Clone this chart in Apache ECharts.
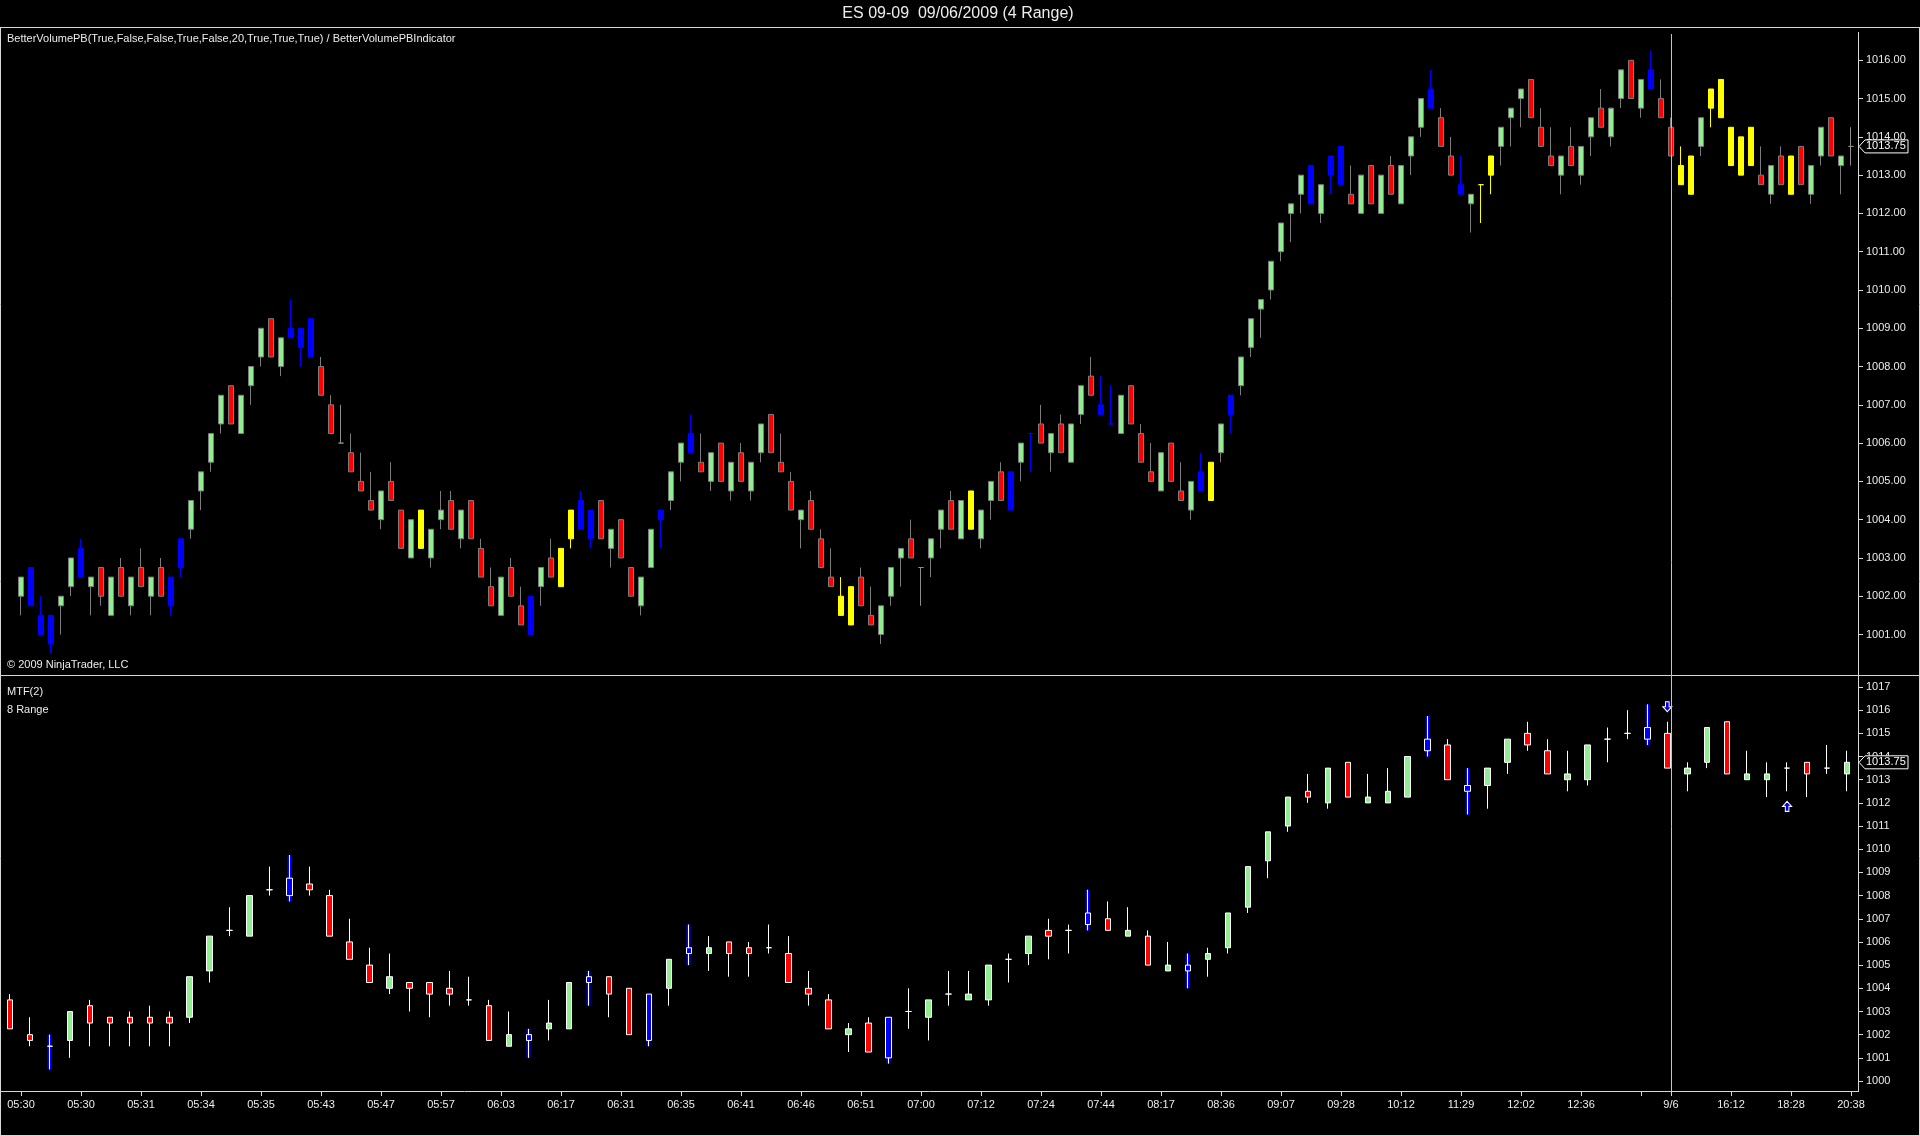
<!DOCTYPE html>
<html>
<head>
<meta charset="utf-8">
<script src="https://cdn.jsdelivr.net/npm/echarts@6/dist/echarts.min.js"></script>
<style>
html,body{margin:0;padding:0;background:#000;overflow:hidden;}
#c{width:1920px;height:1136px;}
</style>
</head>
<body>
<div id="c"></div>
<script>
// ---------- Primary series: 4 Range bars ----------
const topOpen = [
1002.0,1002.75,1001.5,1001.5,1001.75,1002.25,1002.5,1002.25,1002.75,1001.5,
1002.75,1001.75,1002.75,1002.0,1002.75,1002.5,1002.75,1003.75,1004.75,1005.5,
1006.5,1007.5,1006.25,1007.5,1008.25,1009.25,1008.0,1008.75,1009.0,1008.25,
1008.0,1007.0,1006.0,1005.75,1005.0,1004.5,1004.0,1005.0,1004.25,1003.0,
1004.25,1003.0,1004.0,1004.5,1003.5,1004.5,1003.25,1002.25,1001.5,1002.75,
1001.75,1002.0,1002.25,1003.0,1002.25,1003.5,1003.75,1004.25,1004.5,1003.25,
1004.0,1002.75,1001.75,1002.75,1004.0,1004.5,1005.5,1005.75,1005.5,1005.0,
1006.0,1004.75,1005.75,1004.75,1005.75,1006.75,1005.5,1005.0,1004.0,1004.5,
1003.5,1002.5,1002.0,1002.25,1002.5,1001.5,1001.0,1002.0,1003.0,1003.5,
1002.75,1003.0,1003.75,1004.5,1003.5,1003.75,1003.5,1004.5,1005.25,1005.25,
1005.5,1006.25,1006.5,1005.75,1006.5,1005.5,1006.75,1007.75,1007.0,1006.5,
1006.25,1007.5,1006.25,1005.25,1004.75,1006.0,1004.75,1004.25,1005.25,1004.5,
1005.75,1006.75,1007.5,1008.5,1009.5,1010.0,1011.0,1012.0,1012.5,1012.25,
1012.0,1013.0,1012.75,1012.5,1012.0,1013.25,1012.0,1013.25,1012.25,1013.5,
1014.25,1014.75,1014.5,1013.5,1012.75,1012.25,1012.75,1013.0,1013.75,1014.5,
1015.0,1015.5,1014.25,1013.5,1013.0,1013.75,1013.0,1014.0,1014.75,1014.0,
1015.0,1016.0,1014.75,1015.25,1015.0,1014.25,1013.25,1012.5,1013.75,1014.75,
1015.5,1014.25,1014.0,1013.25,1013.0,1012.5,1013.5,1013.5,1013.75,1012.5,
1013.5,1014.5,1013.25,1013.75
];
const topClose = [
1002.5,1001.75,1001.0,1000.75,1002.0,1003.0,1003.25,1002.5,1002.0,1002.5,
1002.0,1002.5,1002.25,1002.5,1002.0,1001.75,1003.5,1004.5,1005.25,1006.25,
1007.25,1006.5,1007.25,1008.0,1009.0,1008.25,1008.75,1009.0,1008.5,1009.25,
1007.25,1006.25,1006.0,1005.25,1004.75,1004.25,1004.75,1004.5,1003.25,1004.0,
1003.25,1003.75,1004.25,1003.75,1004.25,1003.5,1002.5,1001.75,1002.5,1002.0,
1001.25,1001.0,1002.75,1002.5,1003.25,1004.25,1004.5,1003.5,1003.5,1003.75,
1003.0,1002.0,1002.5,1003.75,1004.25,1005.25,1006.0,1006.25,1005.25,1005.75,
1005.0,1005.5,1005.0,1005.5,1006.5,1005.75,1005.25,1004.25,1004.25,1003.75,
1002.75,1002.25,1001.5,1001.25,1001.75,1001.25,1001.75,1002.75,1003.25,1003.0,
1002.75,1003.5,1004.25,1003.75,1004.5,1004.75,1004.25,1005.0,1004.5,1004.25,
1006.0,1006.25,1006.0,1006.25,1005.75,1006.5,1007.5,1007.25,1006.75,1006.5,
1007.25,1006.5,1005.5,1005.0,1005.75,1005.0,1004.5,1005.0,1004.75,1005.5,
1006.5,1007.25,1008.25,1009.25,1009.75,1010.75,1011.75,1012.25,1013.0,1013.25,
1012.75,1013.5,1013.75,1012.25,1013.0,1012.25,1013.0,1012.5,1013.25,1014.0,
1015.0,1015.25,1013.75,1013.0,1012.5,1012.5,1012.75,1013.5,1014.25,1014.75,
1015.25,1014.5,1013.75,1013.25,1013.5,1013.25,1013.75,1014.5,1014.25,1014.75,
1015.75,1015.0,1015.5,1015.75,1014.5,1013.5,1012.75,1013.5,1014.5,1015.25,
1014.5,1013.25,1013.0,1014.25,1012.75,1013.25,1012.75,1012.5,1012.75,1013.25,
1014.25,1013.5,1013.5,1013.75
];
const topLow = [
1001.5,1001.75,1001.0,1000.5,1001.0,1002.0,1002.5,1001.5,1001.75,1001.5,
1002.0,1001.5,1002.25,1001.5,1002.0,1001.5,1002.5,1003.5,1004.25,1005.25,
1006.25,1006.5,1006.25,1007.0,1008.0,1008.25,1007.75,1008.75,1008.0,1008.25,
1007.25,1006.25,1006.0,1005.25,1004.75,1004.25,1003.75,1004.5,1003.25,1003.0,
1003.25,1002.75,1003.75,1003.75,1003.25,1003.5,1002.5,1001.75,1001.5,1002.0,
1001.25,1001.0,1001.75,1002.5,1002.25,1003.25,1003.75,1003.25,1003.5,1002.75,
1003.0,1002.0,1001.5,1002.75,1003.25,1004.25,1005.0,1005.75,1005.25,1004.75,
1005.0,1004.5,1005.0,1004.5,1005.5,1005.75,1005.25,1004.25,1003.25,1003.75,
1002.75,1002.25,1001.5,1001.25,1001.75,1001.25,1000.75,1001.75,1002.25,1003.0,
1001.75,1002.5,1003.25,1003.75,1003.5,1003.75,1003.25,1004.0,1004.5,1004.25,
1005.0,1005.25,1006.0,1005.25,1005.75,1005.5,1006.5,1007.25,1006.75,1006.5,
1006.25,1006.5,1005.5,1005.0,1004.75,1005.0,1004.5,1004.0,1004.75,1004.5,
1005.5,1006.25,1007.25,1008.25,1008.75,1009.75,1010.75,1011.25,1012.0,1012.25,
1011.75,1012.5,1012.75,1012.25,1012.0,1012.25,1012.0,1012.5,1012.25,1013.0,
1014.0,1014.75,1013.75,1013.0,1012.5,1011.5,1011.75,1012.5,1013.25,1013.75,
1014.25,1014.5,1013.75,1013.25,1012.5,1013.25,1012.75,1013.5,1014.25,1013.75,
1014.75,1015.0,1014.5,1015.25,1014.5,1013.5,1012.75,1012.5,1013.5,1014.25,
1014.5,1013.25,1013.0,1013.25,1012.75,1012.25,1012.75,1012.5,1012.75,1012.25,
1013.25,1013.5,1012.5,1013.25
];
const topHigh = [
1002.5,1002.75,1002.0,1001.5,1002.0,1003.0,1003.5,1002.5,1002.75,1002.5,
1003.0,1002.5,1003.25,1002.5,1003.0,1002.5,1003.5,1004.5,1005.25,1006.25,
1007.25,1007.5,1007.25,1008.0,1009.0,1009.25,1008.75,1009.75,1009.0,1009.25,
1008.25,1007.25,1007.0,1006.25,1005.75,1005.25,1004.75,1005.5,1004.25,1004.0,
1004.25,1003.75,1004.75,1004.75,1004.25,1004.5,1003.5,1002.75,1002.5,1003.0,
1002.25,1002.0,1002.75,1003.5,1003.25,1004.25,1004.75,1004.25,1004.5,1003.75,
1004.0,1002.75,1002.5,1003.75,1004.25,1005.25,1006.0,1006.75,1006.25,1005.75,
1006.0,1005.5,1006.0,1005.5,1006.5,1006.75,1006.25,1005.25,1004.25,1004.75,
1003.75,1003.25,1002.5,1002.25,1002.75,1002.25,1001.75,1002.75,1003.25,1004.0,
1002.75,1003.5,1004.25,1004.75,1004.5,1004.75,1004.25,1005.0,1005.5,1005.25,
1006.0,1006.25,1007.0,1006.25,1006.75,1006.5,1007.5,1008.25,1007.75,1007.5,
1007.25,1007.5,1006.5,1006.0,1005.75,1006.0,1005.5,1005.0,1005.75,1005.5,
1006.5,1007.25,1008.25,1009.25,1009.75,1010.75,1011.75,1012.25,1013.0,1013.25,
1012.75,1013.5,1013.75,1013.25,1013.0,1013.25,1013.0,1013.5,1013.25,1014.0,
1015.0,1015.75,1014.75,1014.0,1013.5,1012.5,1012.75,1013.5,1014.25,1014.75,
1015.25,1015.5,1014.75,1014.25,1013.5,1014.25,1013.75,1014.5,1015.25,1014.75,
1015.75,1016.0,1015.5,1016.25,1015.5,1014.5,1013.75,1013.5,1014.5,1015.25,
1015.5,1014.25,1014.0,1014.25,1013.75,1013.25,1013.75,1013.5,1013.75,1013.25,
1014.25,1014.5,1013.5,1014.25
];
// G = normal up, R = normal down, B = blue paint bar, Y = yellow paint bar, D = doji
const topColor = [
'G','B','B','B','G','G','B','G','R','G',
'R','G','R','G','R','B','B','G','G','G',
'G','R','G','G','G','R','G','B','B','B',
'R','R','D','R','R','R','G','R','R','G',
'Y','G','G','R','G','R','R','R','G','R',
'R','B','G','R','Y','Y','B','B','R','G',
'R','R','G','G','B','G','G','B','R','G',
'R','G','R','G','G','R','R','R','G','R',
'R','R','Y','Y','R','R','G','G','G','R',
'D','G','G','R','G','Y','G','G','R','B',
'G','B','R','G','R','G','G','R','B','B',
'G','R','R','R','G','R','R','G','B','Y',
'G','B','G','G','G','G','G','G','G','B',
'G','B','B','R','G','R','G','R','G','G',
'G','B','R','R','B','G','Y','Y','G','G',
'G','R','R','R','G','R','G','G','R','G',
'G','R','G','B','R','R','Y','Y','G','Y',
'Y','Y','Y','Y','R','G','R','Y','R','G',
'G','R','G','D'
];

// ---------- Secondary series: MTF(2) 8 Range bars ----------
const botOpen = [
1003.5,1002.0,1001.5,1001.75,1003.25,1002.75,1002.75,1002.75,1002.75,1002.75,
1004.75,1006.5,1006.25,1008.25,1008.0,1008.5,1008.0,1006.0,1005.0,1004.0,
1004.25,1004.25,1004.0,1003.5,1003.25,1001.5,1001.75,1002.25,1002.25,1004.25,
1004.5,1004.0,1003.75,1004.0,1005.5,1005.5,1006.0,1005.75,1005.75,1005.5,
1004.0,1003.5,1002.0,1002.5,1002.75,1003.0,1002.75,1003.75,1003.5,1003.5,
1005.25,1005.5,1006.5,1006.5,1006.75,1007.0,1006.25,1006.25,1004.75,1005.0,
1005.25,1005.75,1007.5,1009.5,1011.0,1012.5,1012.0,1013.75,1012.0,1012.0,
1012.25,1014.25,1014.5,1012.75,1012.75,1013.75,1015.0,1014.25,1013.0,1013.0,
1014.75,1015.0,1014.75,1015.0,1013.25,1013.75,1015.5,1013.0,1013.0,1013.5,
1013.75,1013.5,1013.25
];
const botClose = [
1002.25,1001.75,1001.5,1003.0,1002.5,1002.5,1002.5,1002.5,1002.5,1004.5,
1006.25,1006.5,1008.0,1008.25,1008.75,1008.25,1006.25,1005.25,1004.25,1004.5,
1004.0,1003.75,1003.75,1003.5,1001.75,1002.0,1002.0,1002.5,1004.25,1004.5,
1003.75,1002.0,1001.75,1005.25,1005.75,1005.75,1005.5,1005.5,1005.75,1004.25,
1003.75,1002.25,1002.25,1001.25,1001.0,1003.0,1003.5,1003.75,1003.75,1005.0,
1005.25,1006.25,1006.25,1006.5,1007.25,1006.5,1006.5,1005.0,1005.0,1004.75,
1005.5,1007.25,1009.25,1010.75,1012.25,1012.25,1013.5,1012.25,1012.25,1012.5,
1014.0,1014.75,1013.0,1012.5,1013.5,1014.75,1014.5,1013.25,1013.25,1014.5,
1014.75,1015.0,1015.25,1013.5,1013.5,1015.25,1013.25,1013.25,1013.25,1013.5,
1013.25,1013.5,1013.75
];
const botLow = [
1002.25,1001.5,1000.5,1001.0,1001.5,1001.5,1001.5,1001.5,1001.5,1002.5,
1004.25,1006.25,1006.25,1008.0,1007.75,1008.0,1006.25,1005.25,1004.25,1003.75,
1003.0,1002.75,1003.25,1003.25,1001.75,1001.5,1001.0,1001.75,1002.25,1003.25,
1002.75,1002.0,1001.5,1003.25,1005.0,1004.75,1004.5,1004.5,1005.5,1004.25,
1003.25,1002.25,1001.25,1001.25,1000.75,1002.25,1001.75,1003.25,1003.5,1003.25,
1004.25,1005.0,1005.25,1005.5,1006.5,1006.5,1006.25,1005.0,1004.75,1004.0,
1004.5,1005.5,1007.25,1008.75,1010.75,1012.0,1011.75,1012.25,1012.0,1012.0,
1012.25,1014.0,1013.0,1011.5,1011.75,1013.25,1014.25,1013.25,1012.5,1012.75,
1013.75,1014.75,1014.5,1013.5,1012.5,1013.5,1013.25,1013.0,1012.25,1012.5,
1012.25,1013.25,1012.5
];
const botHigh = [
1003.75,1002.75,1002.0,1003.0,1003.5,1002.75,1003.0,1003.25,1003.0,1004.5,
1006.25,1007.5,1008.0,1009.25,1009.75,1009.25,1008.25,1007.0,1005.75,1005.5,
1004.25,1004.25,1004.75,1004.5,1003.5,1003.0,1002.25,1003.5,1004.25,1004.75,
1004.5,1004.0,1003.75,1005.25,1006.75,1006.25,1006.0,1006.0,1006.75,1006.25,
1004.75,1003.75,1002.5,1002.75,1002.75,1004.0,1003.5,1004.75,1004.75,1005.0,
1005.5,1006.25,1007.0,1006.75,1008.25,1007.75,1007.5,1006.5,1006.0,1005.5,
1005.75,1007.25,1009.25,1010.75,1012.25,1013.25,1013.5,1013.75,1013.25,1013.5,
1014.0,1015.75,1014.75,1013.5,1013.5,1014.75,1015.5,1014.75,1014.25,1014.5,
1015.25,1016.0,1016.25,1015.5,1013.75,1015.25,1015.5,1014.25,1013.75,1013.75,
1013.75,1014.5,1014.25
];
// G = up, R = down, B = blue paint bar, W = doji
const botColor = [
'R','R','B','G','R','R','R','R','R','G',
'G','W','G','W','B','R','R','R','R','G',
'R','R','R','W','R','G','B','G','G','B',
'R','R','B','G','B','G','R','R','W','R',
'R','R','G','R','B','W','G','W','G','G',
'W','G','R','W','B','R','G','R','G','B',
'G','G','G','G','G','R','G','R','G','G',
'G','B','R','B','G','G','R','R','G','G',
'W','W','B','R','G','G','R','G','G','W',
'R','W','G'
];
// signal arrows on the secondary panel: [bar index, price]
const arrowDown = [[83, 1016.15]];
const arrowUp = [[89, 1011.85]];

// ---------- Axis labels ----------
const tickIndex = [0,6,12,18,24,30,36,42,48,54,60,66,72,78,84,90,96,102,108,114,120,126,132,138,144,150,156,162,165,171,177,183];
const tickLabels = ['05:30','05:30','05:31','05:34','05:35','05:43','05:47','05:57','06:03','06:17','06:31','06:35','06:41','06:46','06:51','07:00','07:12','07:24','07:44','08:17','08:36','09:07','09:28','10:12','11:29','12:02','12:36','','9/6','16:12','18:28','20:38'];
const topPriceTicks = [1001,1002,1003,1004,1005,1006,1007,1008,1009,1010,1011,1012,1013,1014,1015,1016];
const crosshairBar = 165;

const chartTitle = 'ES 09-09  09/06/2009 (4 Range)';
const topPanelLabel = 'BetterVolumePB(True,False,False,True,False,20,True,True,True) / BetterVolumePBIndicator';
const copyrightText = '\u00A9 2009 NinjaTrader, LLC';
const botPanelLabel1 = 'MTF(2)';
const botPanelLabel2 = '8 Range';

// ---------- Build ----------
const FONT = '"Liberation Sans", Arial, Helvetica, sans-serif';
const TXT = '#ececec';
const LINE = '#d8d8d8';
const topPal = {
  G: {f: '#90ee90', b: '#7c7c7c'},
  R: {f: '#ff0000', b: '#7c7c7c'},
  B: {f: '#0000ff', b: '#0000ff'},
  Y: {f: '#ffff00', b: '#ffff00'},
  D: {f: '#8c8c8c', b: '#8c8c8c'}
};
const botPal = {G: '#90ee90', R: '#ff0000', B: '#0000ff', W: '#ffffff'};

function item(o, c, l, h, fill, border) {
  return {value: [o, c, l, h], itemStyle: {color: fill, color0: fill, borderColor: border, borderColor0: border, borderColorDoji: border}};
}
const topCats = topOpen.map((_, i) => String(i));
const botCats = botOpen.map((_, i) => String(i));
const topData = topOpen.map((o, i) => {
  const p = topPal[topColor[i]];
  return item(o, topClose[i], topLow[i], topHigh[i], p.f, p.b);
});
const botData = botOpen.map((o, i) => item(o, botClose[i], botLow[i], botHigh[i], botPal[botColor[i]], '#ffffff'));
const botBlueWick = botOpen.map((o, i) => botColor[i] === 'B'
  ? item(o, botClose[i], botLow[i], botHigh[i], '#0000ff', '#0000ff')
  : {value: ['-', '-', '-', '-']});

const tickSet = new Set(tickIndex);
const labelMap = {};
tickIndex.forEach((t, k) => { labelMap[t] = tickLabels[k]; });

const chart = echarts.init(document.getElementById('c'), null, {renderer: 'canvas', width: 1920, height: 1136});

const downPath = 'path://M3,0 L7,0 L7,5 L10,5 L5,10 L0,5 L3,5 Z';
const upPath = 'path://M5,0 L10,5 L7,5 L7,10 L3,10 L3,5 L0,5 Z';

chart.setOption({
  backgroundColor: '#000000',
  animation: false,
  textStyle: {fontFamily: FONT},
  grid: [
    {left: 16, right: 64, top: 22, height: 650.8},
    {left: -3, right: 63, top: 687, height: 394},
    {left: 16, right: 64, top: 687, height: 404}
  ],
  xAxis: [
    {type: 'category', gridIndex: 0, data: topCats, boundaryGap: true, show: false},
    {type: 'category', gridIndex: 1, data: botCats, boundaryGap: true, show: false},
    {type: 'category', gridIndex: 2, data: topCats, boundaryGap: true, position: 'bottom',
      axisLine: {show: false},
      axisTick: {show: true, alignWithLabel: true, length: 5, interval: (i) => tickSet.has(i), lineStyle: {color: LINE, width: 1}},
      axisLabel: {show: true, interval: (i) => tickSet.has(i), formatter: (v, i) => labelMap[i] !== undefined ? labelMap[i] : '',
        color: TXT, fontSize: 11, fontFamily: FONT, margin: 8},
      splitLine: {show: false}
    }
  ],
  yAxis: [
    {type: 'value', gridIndex: 0, position: 'right', offset: 2, min: 1000, max: 1017, interval: 1,
      axisLine: {show: false},
      axisTick: {show: true, length: 5, customValues: topPriceTicks, lineStyle: {color: LINE}},
      axisLabel: {show: true, customValues: topPriceTicks, formatter: (v) => Number(v).toFixed(2), color: TXT, fontSize: 11, fontFamily: FONT, margin: 8},
      splitLine: {show: false}
    },
    {type: 'value', gridIndex: 1, position: 'right', offset: 1, min: 1000, max: 1017, interval: 1,
      axisLine: {show: false},
      axisTick: {show: true, length: 5, lineStyle: {color: LINE}},
      axisLabel: {show: true, formatter: (v) => String(Math.round(v)), color: TXT, fontSize: 11, fontFamily: FONT, margin: 8},
      splitLine: {show: false}
    },
    {type: 'value', gridIndex: 2, show: false, min: 1000, max: 1017}
  ],
  series: [
    {type: 'candlestick', name: '4 Range', xAxisIndex: 0, yAxisIndex: 0, data: topData, barWidth: 6,
      itemStyle: {borderWidth: 1}, silent: true, z: 3},
    {type: 'candlestick', name: 'blue wick', xAxisIndex: 1, yAxisIndex: 1, data: botBlueWick, barWidth: 1,
      itemStyle: {borderWidth: 4}, silent: true, z: 2},
    {type: 'candlestick', name: '8 Range', xAxisIndex: 1, yAxisIndex: 1, data: botData, barWidth: 6,
      itemStyle: {borderWidth: 1}, silent: true, z: 3},
    {type: 'scatter', xAxisIndex: 1, yAxisIndex: 1, data: arrowDown, symbol: downPath, symbolSize: [9, 10],
      itemStyle: {color: '#0000ff', borderColor: '#ffffff', borderWidth: 1, opacity: 1}, silent: true, z: 5},
    {type: 'scatter', xAxisIndex: 1, yAxisIndex: 1, data: arrowUp, symbol: upPath, symbolSize: [9, 10],
      itemStyle: {color: '#0000ff', borderColor: '#ffffff', borderWidth: 1, opacity: 1}, silent: true, z: 5}
  ]
});

// ---------- Overlays positioned through the chart's own scales ----------
const xc = Math.round(chart.convertToPixel({xAxisIndex: 0}, crosshairBar)) + 0.5;
const yTop = chart.convertToPixel({yAxisIndex: 0}, topClose[topClose.length - 1]);
const yBot = chart.convertToPixel({yAxisIndex: 1}, botClose[botClose.length - 1]);

function ln(x1, y1, x2, y2, color) {
  return {type: 'line', z: 100, silent: true, shape: {x1, y1, x2, y2}, style: {stroke: color || LINE, lineWidth: 1}};
}
function txt(x, y, s, size, align) {
  return {type: 'text', z: 101, silent: true, x, y, style: {text: s, fill: TXT, font: size + 'px ' + FONT, align: align || 'left', verticalAlign: 'middle'}};
}
function priceTag(y, s) {
  const h = 6.5;
  return [
    {type: 'polygon', z: 102, silent: true,
      shape: {points: [[1859, y], [1865, y - h], [1908, y - h], [1908, y + h], [1865, y + h]]},
      style: {fill: '#000000', stroke: '#ffffff', lineWidth: 1}},
    {type: 'text', z: 103, silent: true, x: 1866, y: y, style: {text: s, fill: '#ffffff', font: '11px ' + FONT, verticalAlign: 'middle'}}
  ];
}

chart.setOption({
  graphic: [
    ln(0, 27.5, 1920, 27.5),
    ln(0, 675.5, 1920, 675.5),
    ln(0.5, 27, 0.5, 1136),
    ln(1919.5, 27, 1919.5, 1136),
    ln(0, 1135.5, 1920, 1135.5),
    ln(1858.5, 32, 1858.5, 1092),
    ln(0, 1091.5, 1858.5, 1091.5),
    ln(xc, 34, xc, 1091, '#c4c4c4'),
    txt(958, 14, chartTitle, 16, 'center'),
    txt(7, 39, topPanelLabel, 11),
    txt(7, 665, copyrightText, 11),
    txt(7, 692, botPanelLabel1, 11),
    txt(7, 710, botPanelLabel2, 11),
    ...priceTag(yTop, topClose[topClose.length - 1].toFixed(2)),
    ...priceTag(yBot, botClose[botClose.length - 1].toFixed(2))
  ]
});
</script>
</body>
</html>
